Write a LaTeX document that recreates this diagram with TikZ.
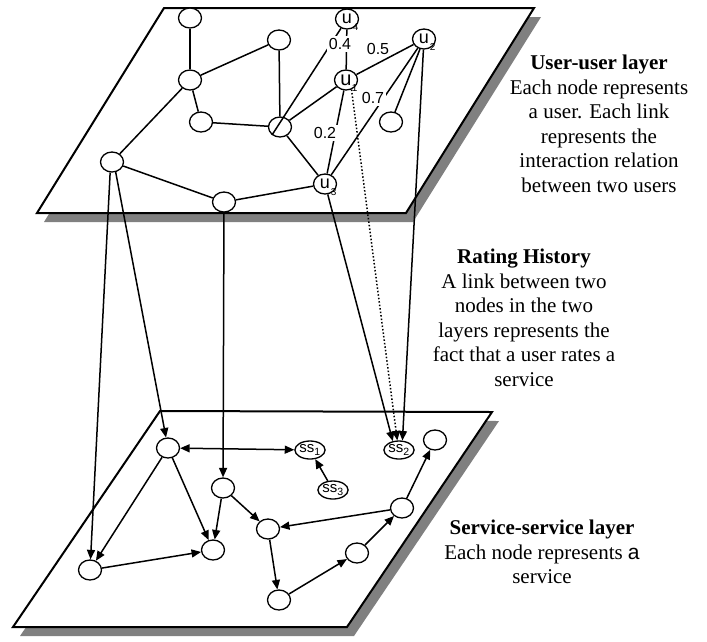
\documentclass[tikz,border=0pt]{standalone}
\usepackage{fontspec}
\setmainfont{Liberation Serif}
\newfontfamily\arialfont{Liberation Sans}
\usetikzlibrary{arrows.meta,shapes.geometric}
\newcommand\subtxt{\arialfont\fontsize{10}{10}\selectfont}
\begin{document}
\begin{tikzpicture}[x=1pt,y=-1pt,
  plane/.style={draw=black,line width=2pt,fill=white,line join=miter},
  planeshadow/.style={fill=black!50,draw=none},
  vtx/.style={draw,ellipse,line width=1.3pt,fill=white,minimum width=23pt,minimum height=20pt,inner sep=0pt},
  uvtx/.style={vtx,font=\arialfont\fontsize{18}{18}\selectfont},
  svtx/.style={vtx,minimum width=22pt,minimum height=18pt,font=\arialfont\fontsize{15}{15}\selectfont},
  sub/.style={label={[font=\subtxt,inner sep=0pt,label distance=-4pt]-40:#1}},
  edge/.style={line width=1.5pt},
  arr/.style={line width=1.5pt,-{Triangle[length=9.5pt,width=8pt]}},
  darr/.style={line width=1.5pt,{Triangle[length=9.5pt,width=8pt]}-{Triangle[length=9.5pt,width=8pt]}},
  rated/.style={line width=1.5pt,dash pattern=on 1.5pt off 2pt,-{Triangle[length=9.5pt,width=8pt]}},
  wlbl/.style={fill=white,inner sep=2pt,font=\arialfont\fontsize{16}{16}\selectfont},
  note/.style={align=center,font=\fontsize{21}{24.5}\selectfont}]
\useasboundingbox (0,0) rectangle (707,641);

% layer planes with drop shadows
\fill[planeshadow] (170,17) -- (541,17) -- (413,222) -- (44,222) -- cycle;
\draw[plane] (164,8) -- (534,8) -- (406,213) -- (37,213) -- cycle;
\fill[planeshadow] (167,420) -- (499,421) -- (354,636) -- (20,636) -- cycle;
\draw[plane] (160,411) -- (492,412) -- (347,627) -- (13,627) -- cycle;

% user-user layer
\node[vtx] (A) at (190,18) {};
\node[vtx] (B) at (279,40) {};
\node[vtx] (C) at (190,80) {};
\node[vtx] (D) at (201,122) {};
\node[vtx] (E) at (280,127) {};
\node[vtx] (F) at (112,162) {};
\node[vtx] (G) at (224,202) {};
\node[vtx] (H) at (391,122) {};
\node[uvtx,sub=4] (u4) at (347,19) {u};
\node[uvtx,sub=2] (u2) at (424,39) {u};
\node[uvtx,sub=1,font=\arialfont\fontsize{20}{20}\selectfont] (u1) at (346,80) {u};
\node[uvtx,sub=3] (u3) at (325,184) {u};

\draw[edge] (A) -- (C);
\draw[edge] (C) -- (B);
\draw[edge] (C) -- (D);
\draw[edge] (C) -- (F);
\draw[edge] (D) -- (E);
\draw[edge] (B) -- (E);
\draw[edge] (E) -- (u1);
\draw[edge] (E) -- (u3);
\draw[edge] (E.225) -- (u4);
\draw[edge] (u1) -- (u4);
\draw[edge] (u1) -- (u2);
\draw[edge] (u1) -- (u3);
\draw[edge] (u2) -- (u3);
\draw[edge] (u2) -- (H);
\draw[edge] (F) -- (G);
\draw[edge] (G) -- (u3);

\node[wlbl] (w4) at (340,44) {0.4};
\node[wlbl,fill=none] (w5) at (378,49) {0.5};
\node[wlbl] (w7) at (373,98) {0.7};
\node[wlbl] (w2) at (325,133) {0.2};

% service-service layer
\node[vtx] (P) at (168,448) {};
\node[svtx] (ss1) at (310,450) {ss\textsubscript{1}};
\node[svtx] (ss2) at (399,450) {ss\textsubscript{2}};
\node[vtx] (Q) at (435,440) {};
\node[vtx] (R) at (223,488) {};
\node[svtx] (ss3) at (333,490) {ss\textsubscript{3}};
\node[vtx] (S) at (402,508) {};
\node[vtx] (T) at (268,529) {};
\node[vtx] (U) at (213,550) {};
\node[vtx] (BL) at (90,570) {};
\node[vtx] (V) at (357,553) {};
\node[vtx] (W) at (279,600) {};

\draw[darr] (P) -- (ss1);
\draw[arr] (P) -- (BL);
\draw[arr] (P) -- (U);
\draw[arr] (R) -- (U);
\draw[arr] (R) -- (T);
\draw[arr] (BL) -- (U);
\draw[arr] (S) -- (T);
\draw[arr] (T) -- (W);
\draw[arr] (W) -- (V);
\draw[arr] (V) -- (S);
\draw[arr] (S) -- (Q);
\draw[arr] (ss3) -- (ss1);

% rating history links between the layers
\draw[arr] (F.-100) -- (BL);
\draw[arr] (F.-70) -- (P);
\draw[arr] (G) -- (R);
\draw[arr] (u3) -- (ss2.125);
\draw[rated] (u1.-60) -- (ss2.100);
\draw[arr] (u2) -- (ss2.70);

% explanations
\node[note] (t1) at (599,124) {\textbf{User-user layer}\\Each node represents\\a user. Each link\\represents the\\interaction relation\\between two users};
\node[note] (t2) at (524,318) {\textbf{Rating History}\\A link between two\\nodes in the two\\layers represents the\\fact that a user rates a\\service};
\node[note] (t3) at (542,552) {\textbf{Service-service layer}\\Each node represents {\arialfont a}\\service};
\end{tikzpicture}
\end{document}
